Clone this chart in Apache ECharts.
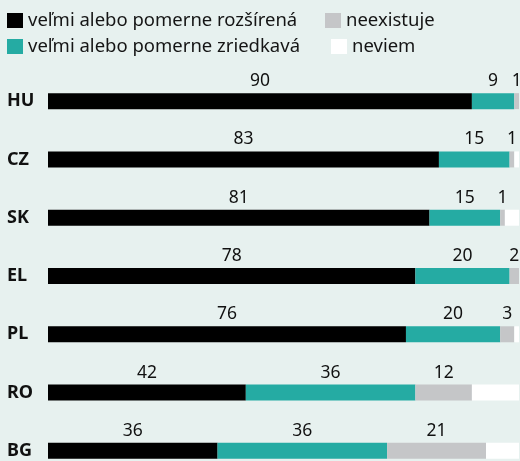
<!DOCTYPE html>
<html>
<head>
<meta charset="utf-8">
<script src="https://cdn.jsdelivr.net/npm/echarts@6/dist/echarts.min.js"></script>
<style>
  html, body { margin: 0; padding: 0; background: #e7f1ef; }
  #chart { width: 520px; height: 461px; }
</style>
</head>
<body>
<div id="chart"></div>
<script>
// krajiny
const countries = ['HU', 'CZ', 'SK', 'EL', 'PL', 'RO', 'BG']
// hodnoty v %
const rozsirena = [90, 83, 81, 78, 76, 42, 36]
const zriedkava = [9, 15, 15, 20, 20, 36, 36]
const neexistuje = [1, 1, 1, 2, 3, 12, 21]
const neviem = [0, 1, 3, 0, 1, 10, 7]

const names = ['veľmi alebo pomerne rozšírená', 'veľmi alebo pomerne zriedkavá', 'neexistuje', 'neviem']
const colors = ['#000000', '#25aba3', '#c5c6c8', '#ffffff']
const font = 'Noto Sans'

const valueLabel = {
  show: true,
  position: 'top',
  distance: 3,
  fontFamily: font,
  fontSize: 17.5,
  color: '#111'
}

function legendAt(name, left, top) {
  return {
    data: [name],
    left: left,
    top: top,
    padding: 0,
    icon: 'rect',
    itemWidth: 16,
    itemHeight: 15,
    selectedMode: false,
    textStyle: { fontFamily: font, fontSize: 18.5, color: '#151515' }
  }
}

const chart = echarts.init(document.getElementById('chart'))
chart.setOption({
  backgroundColor: '#e7f1ef',
  animation: false,
  color: colors,
  legend: [
    legendAt(names[0], 7, 11),
    legendAt(names[1], 7, 37),
    legendAt(names[2], 325, 11),
    legendAt(names[3], 331, 37)
  ],
  grid: { left: 48, width: 471, top: 72, height: 408, outerBoundsMode: 'none', containLabel: false },
  xAxis: {
    type: 'value',
    min: 0,
    max: 100,
    show: false
  },
  yAxis: {
    type: 'category',
    data: countries,
    inverse: true,
    axisLine: { show: false },
    axisTick: { show: false },
    axisLabel: {
      align: 'left',
      margin: 41,
      padding: [3, 0, 0, 0],
      fontFamily: font,
      fontWeight: 'bold',
      fontSize: 18,
      color: '#111'
    }
  },
  series: [
    { name: names[0], type: 'bar', stack: 'a', barWidth: 16, data: rozsirena, label: valueLabel },
    { name: names[1], type: 'bar', stack: 'a', barWidth: 16, data: zriedkava, label: valueLabel },
    { name: names[2], type: 'bar', stack: 'a', barWidth: 16, data: neexistuje, label: valueLabel },
    { name: names[3], type: 'bar', stack: 'a', barWidth: 16, data: neviem }
  ]
})
</script>
</body>
</html>
